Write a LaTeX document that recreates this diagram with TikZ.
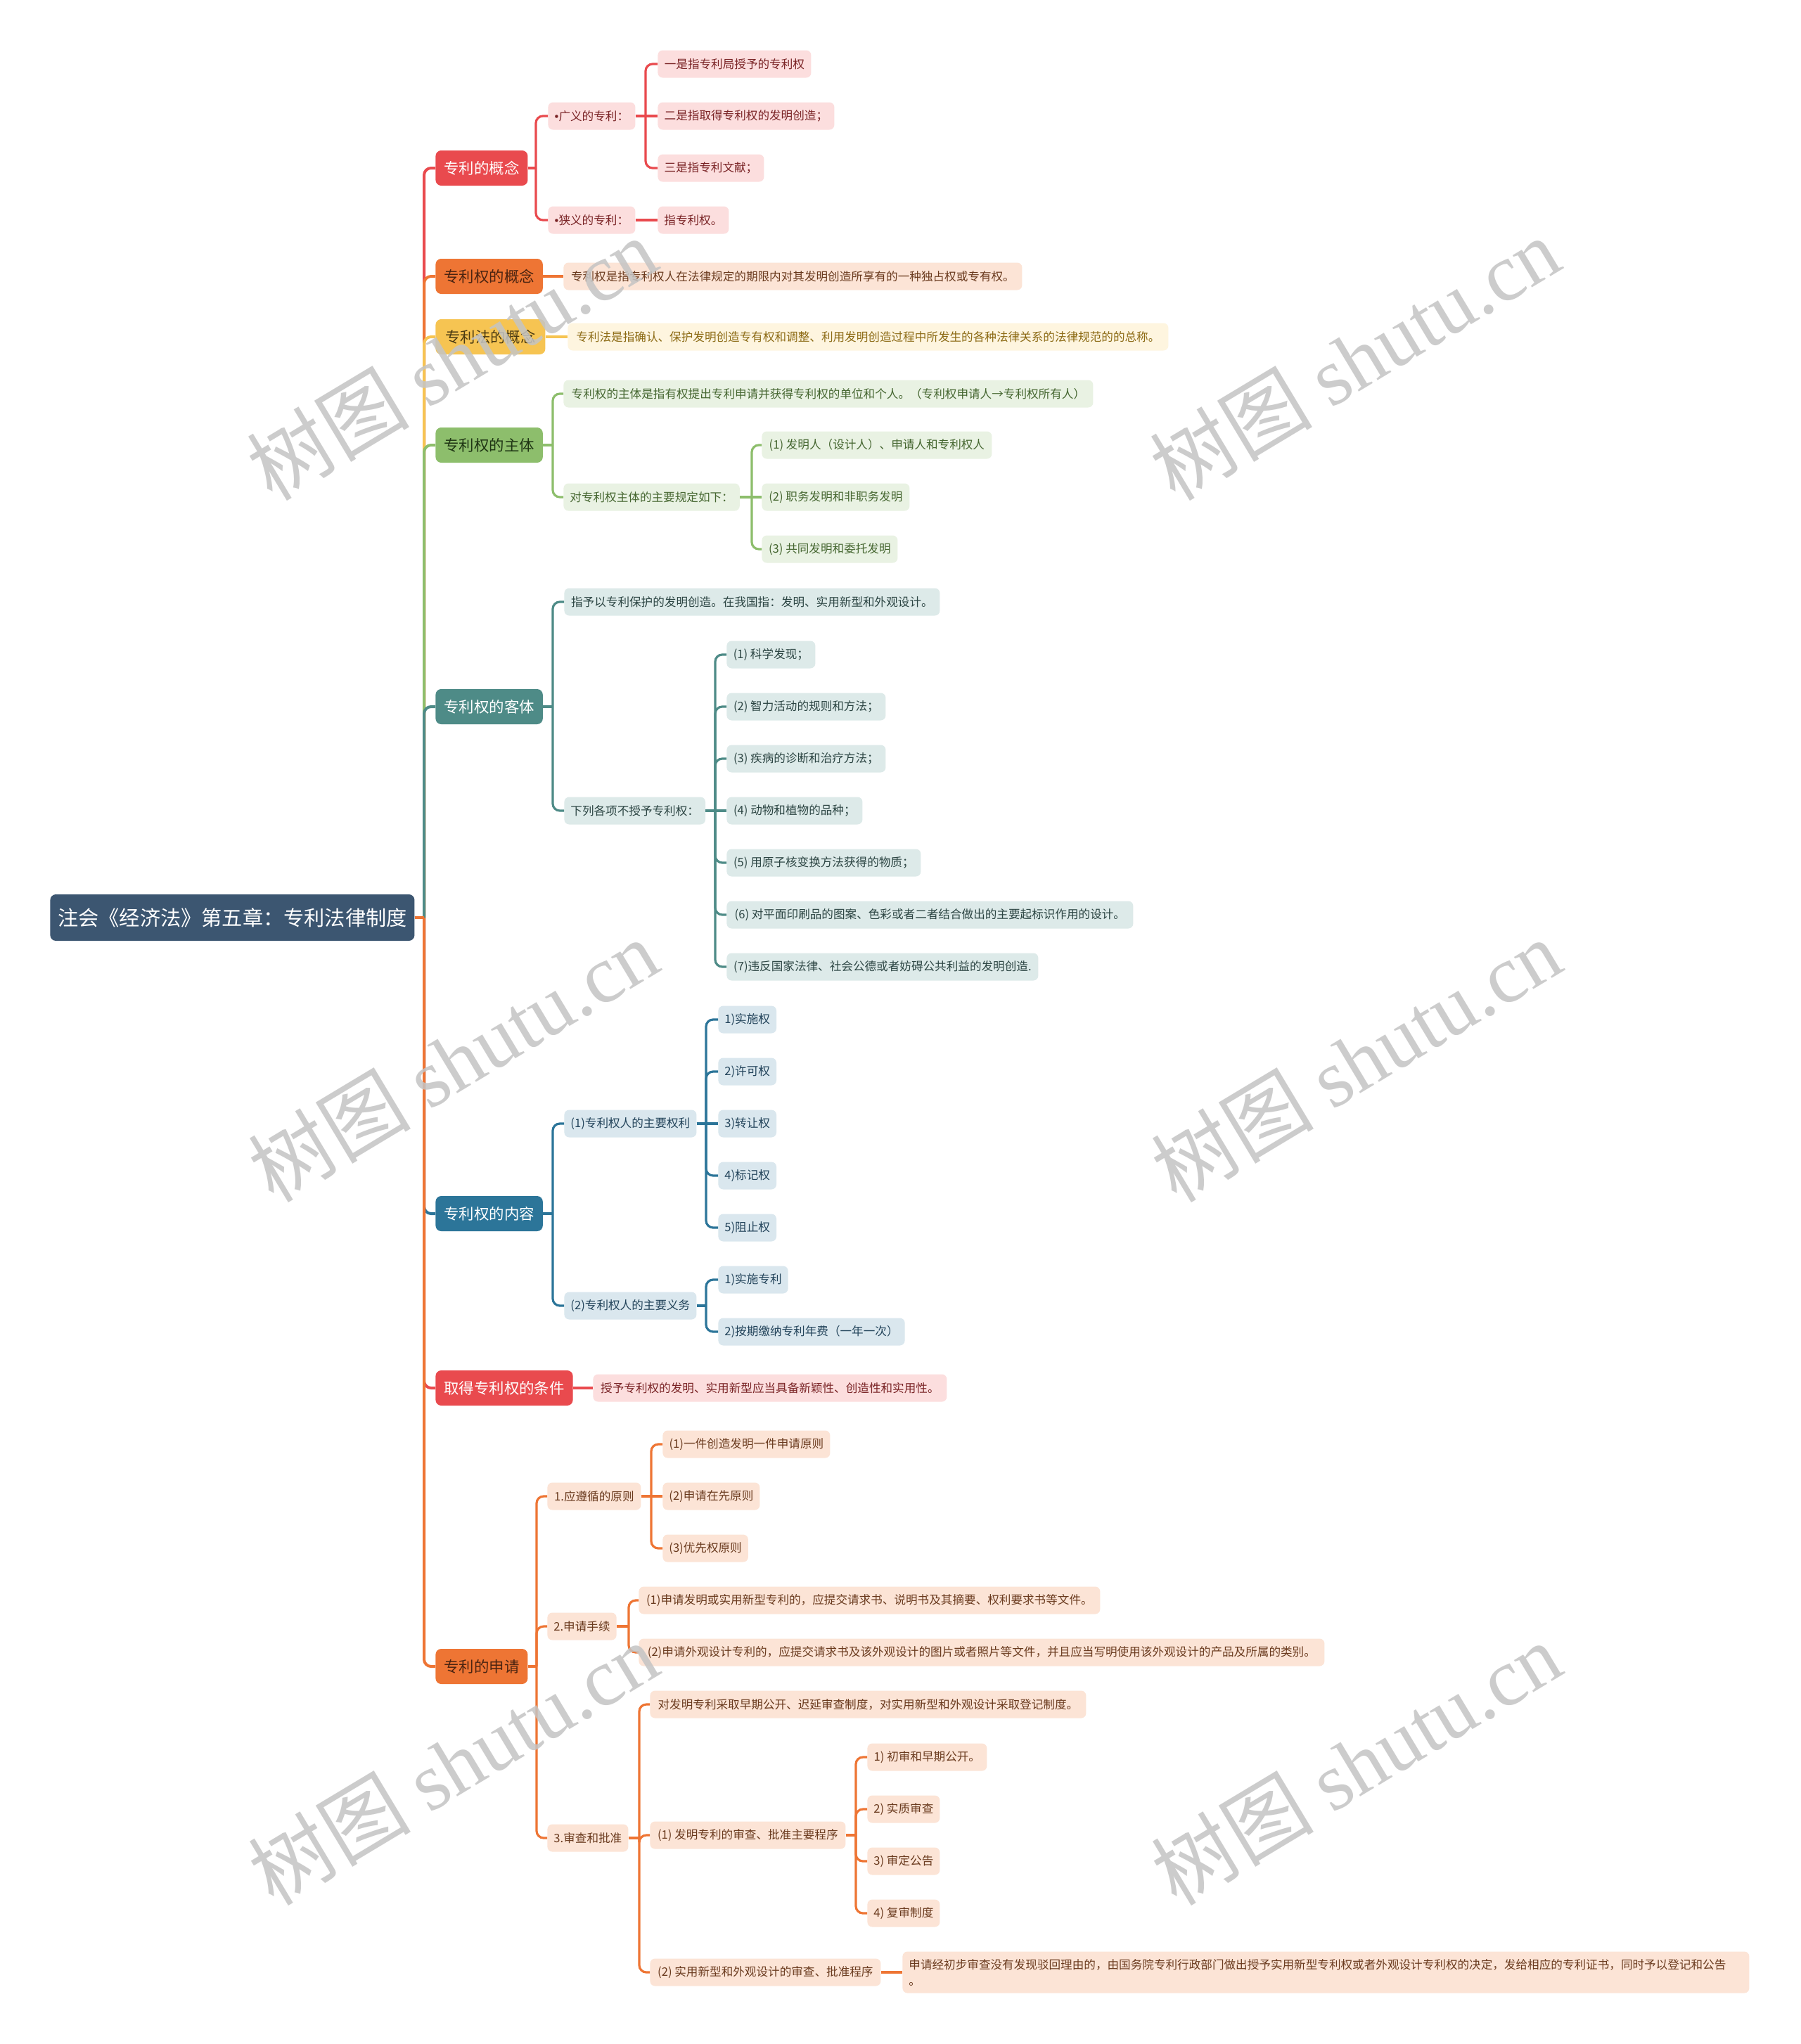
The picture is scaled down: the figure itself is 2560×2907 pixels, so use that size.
\documentclass[tikz,border=0pt]{standalone}
\usepackage{fontspec}
\setmainfont{Noto Sans CJK SC}
\newfontfamily\wmserif{Liberation Serif}
\newfontfamily\latinf{Liberation Sans}
\usetikzlibrary{calc}

\definecolor{rootc}{HTML}{3C5671}
\definecolor{redc}{HTML}{E94A4E}
\definecolor{redl}{HTML}{FCDEDE}
\definecolor{redt}{HTML}{7A2426}
\definecolor{orac}{HTML}{EE7534}
\definecolor{oral}{HTML}{FCE4D6}
\definecolor{orat}{HTML}{6A3A1E}
\definecolor{oradk}{HTML}{4B2411}
\definecolor{yelc}{HTML}{F6C452}
\definecolor{yell}{HTML}{FEF5DF}
\definecolor{yelt}{HTML}{8C6A14}
\definecolor{yeldk}{HTML}{4A3A12}
\definecolor{grnc}{HTML}{8DBE6C}
\definecolor{grnl}{HTML}{E9F2E3}
\definecolor{grnt}{HTML}{456630}
\definecolor{grndk}{HTML}{1F3514}
\definecolor{tealc}{HTML}{4E8B87}
\definecolor{teall}{HTML}{DDEAE9}
\definecolor{tealt}{HTML}{2C4543}
\definecolor{bluc}{HTML}{2C7599}
\definecolor{blul}{HTML}{DAE7EE}
\definecolor{blut}{HTML}{22435A}
\definecolor{wmc}{HTML}{C4C4C4}

\newcommand\mmnode[6]{\node[#5,minimum width=#4*0.5pt] (#1) at (#2,#3) {#6};}
\newcommand\mmlink[4]{%
  \coordinate (v#1) at (#3,0);
  \draw[#4] (#1.east) -- (#1.east -| v#1);
  \draw[#4,rounded corners=5pt] (#1.east -| v#1) |- (#2.west);}
\newcommand\mmstraight[3]{\draw[#3] (#1.east) -- (#2.west);}
\newcommand\bul{{\latinf •}}

\begin{document}
\begin{tikzpicture}[x=0.5pt,y=-0.5pt,
  rootbox/.style={fill=rootc,text=white,rounded corners=4pt,minimum height=33pt,inner xsep=5pt,inner ysep=0pt,font=\fontsize{14.6pt}{18pt}\selectfont,anchor=west},
  lone/.style={rounded corners=4pt,minimum height=25pt,inner xsep=6pt,inner ysep=0pt,font=\fontsize{10.7pt}{13pt}\selectfont,anchor=west},
  leaf/.style={rounded corners=3.5pt,minimum height=19.5pt,inner xsep=4.5pt,inner ysep=0pt,font=\fontsize{8.3pt}{10pt}\selectfont,anchor=west},
  rl/.style={leaf,fill=redl,text=redt},
  ol/.style={leaf,fill=oral,text=orat},
  yl/.style={leaf,fill=yell,text=yelt},
  gl/.style={leaf,fill=grnl,text=grnt},
  tl/.style={leaf,fill=teall,text=tealt},
  bl/.style={leaf,fill=blul,text=blut},
  trunk/.style={line width=2pt},
  twig/.style={line width=1.6pt},
  wm/.style={rotate=31,text=wmc,opacity=0.85,font=\fontsize{58pt}{58pt}\selectfont}
]
\fill[white] (0,0) rectangle (2560,2907);
\useasboundingbox (0,0) rectangle (2560,2907);

% root
\mmnode{root}{71}{1305}{518}{rootbox}{注会《经济法》第五章：专利法律制度}

% level 1
\mmnode{La}{619}{239}{130}{lone,fill=redc,text=white}{专利的概念}
\mmnode{Lb}{619}{393}{151}{lone,fill=orac,text=oradk}{专利权的概念}
\mmnode{Lc}{619}{479}{156}{lone,fill=yelc,text=yeldk}{专利法的概念}
\mmnode{Ld}{619}{633}{151}{lone,fill=grnc,text=grndk}{专利权的主体}
\mmnode{Le}{619}{1005}{151}{lone,fill=tealc,text=white}{专利权的客体}
\mmnode{Lf}{619}{1726}{151}{lone,fill=bluc,text=white}{专利权的内容}
\mmnode{Lg}{619}{1974}{194}{lone,fill=redc,text=white}{取得专利权的条件}
\mmnode{Lh}{619}{2370}{130}{lone,fill=orac,text=oradk}{专利的申请}

% 专利的概念
\mmnode{a1}{779}{165}{124}{rl}{\bul 广义的专利：}
\mmnode{a2}{779}{313}{124}{rl}{\bul 狭义的专利：}
\mmnode{a11}{935}{91}{218}{rl}{一是指专利局授予的专利权}
\mmnode{a12}{935}{165}{251}{rl}{二是指取得专利权的发明创造；}
\mmnode{a13}{935}{239}{151}{rl}{三是指专利文献；}
\mmnode{a21}{935}{313}{100}{rl}{指专利权。}

% 专利权的概念 / 专利法的概念
\mmnode{b1}{801}{393}{652}{ol}{专利权是指专利权人在法律规定的期限内对其发明创造所享有的一种独占权或专有权。}
\mmnode{c1}{807}{479}{854}{yl}{专利法是指确认、保护发明创造专有权和调整、利用发明创造过程中所发生的各种法律关系的法律规范的的总称。}

% 专利权的主体
\mmnode{d1}{801}{560}{753}{gl}{专利权的主体是指有权提出专利申请并获得专利权的单位和个人。（专利权申请人→专利权所有人）}
\mmnode{d2}{801}{707}{250}{gl}{对专利权主体的主要规定如下：}
\mmnode{d21}{1083}{633}{327}{gl}{(1) 发明人（设计人）、申请人和专利权人}
\mmnode{d22}{1083}{707}{210}{gl}{(2) 职务发明和非职务发明}
\mmnode{d23}{1083}{781}{193}{gl}{(3) 共同发明和委托发明}

% 专利权的客体
\mmnode{e1}{802}{856}{534}{tl}{指予以专利保护的发明创造。在我国指：发明、实用新型和外观设计。}
\mmnode{e2}{802}{1153}{200}{tl}{下列各项不授予专利权：}
\mmnode{e21}{1033}{931}{126}{tl}{(1) 科学发现；}
\mmnode{e22}{1033}{1005}{226}{tl}{(2) 智力活动的规则和方法；}
\mmnode{e23}{1033}{1079}{226}{tl}{(3) 疾病的诊断和治疗方法；}
\mmnode{e24}{1033}{1153}{193}{tl}{(4) 动物和植物的品种；}
\mmnode{e25}{1033}{1227}{276}{tl}{(5) 用原子核变换方法获得的物质；}
\mmnode{e26}{1033}{1301}{578}{tl}{(6) 对平面印刷品的图案、色彩或者二者结合做出的主要起标识作用的设计。}
\mmnode{e27}{1033}{1375}{443}{tl}{(7)违反国家法律、社会公德或者妨碍公共利益的发明创造.}

% 专利权的内容
\mmnode{f1}{802}{1598}{188}{bl}{(1)专利权人的主要权利}
\mmnode{f11}{1021}{1450}{82}{bl}{1)实施权}
\mmnode{f12}{1021}{1524}{82}{bl}{2)许可权}
\mmnode{f13}{1021}{1598}{82}{bl}{3)转让权}
\mmnode{f14}{1021}{1672}{82}{bl}{4)标记权}
\mmnode{f15}{1021}{1746}{82}{bl}{5)阻止权}
\mmnode{f2}{802}{1857}{188}{bl}{(2)专利权人的主要义务}
\mmnode{f21}{1021}{1820}{98}{bl}{1)实施专利}
\mmnode{f22}{1021}{1894}{265}{bl}{2)按期缴纳专利年费（一年一次）}

% 取得专利权的条件
\mmnode{g1}{843}{1974}{503}{rl}{授予专利权的发明、实用新型应当具备新颖性、创造性和实用性。}

% 专利的申请
\mmnode{h1}{778}{2128}{133}{ol}{1.应遵循的原则}
\mmnode{h11}{942}{2054}{238}{ol}{(1)一件创造发明一件申请原则}
\mmnode{h12}{942}{2128}{137}{ol}{(2)申请在先原则}
\mmnode{h13}{942}{2202}{121}{ol}{(3)优先权原则}
\mmnode{h2}{778}{2313}{98}{ol}{2.申请手续}
\mmnode{h21}{908}{2276}{656}{ol}{(1)申请发明或实用新型专利的，应提交请求书、说明书及其摘要、权利要求书等文件。}
\mmnode{h22}{908}{2350}{975}{ol}{(2)申请外观设计专利的，应提交请求书及该外观设计的图片或者照片等文件，并且应当写明使用该外观设计的产品及所属的类别。}
\mmnode{h3}{778}{2614}{115}{ol}{3.审查和批准}
\mmnode{h31}{924}{2424}{620}{ol}{对发明专利采取早期公开、迟延审查制度，对实用新型和外观设计采取登记制度。}
\mmnode{h32}{924}{2610}{278}{ol}{(1) 发明专利的审查、批准主要程序}
\mmnode{h321}{1233}{2499}{170}{ol}{1) 初审和早期公开。}
\mmnode{h322}{1233}{2573}{103}{ol}{2) 实质审查}
\mmnode{h323}{1233}{2647}{103}{ol}{3) 审定公告}
\mmnode{h324}{1233}{2721}{103}{ol}{4) 复审制度}
\mmnode{h33}{924}{2805}{328}{ol}{(2) 实用新型和外观设计的审查、批准程序}
\node[ol,minimum height=29.5pt,text width=593pt,align=left,font=\fontsize{8.3pt}{11.5pt}\selectfont] (h331) at (1283,2805) {申请经初步审查没有发现驳回理由的，由国务院专利行政部门做出授予实用新型专利权或者外观设计专利权的决定，发给相应的专利证书，同时予以登记和公告\\。};

% root connectors (order gives trunk colours)
\mmlink{root}{La}{603}{trunk,redc}
\mmlink{root}{Lb}{603}{trunk,orac}
\mmlink{root}{Lc}{603}{trunk,yelc}
\mmlink{root}{Ld}{603}{trunk,grnc}
\mmlink{root}{Le}{603}{trunk,tealc}
\mmlink{root}{Lf}{603}{trunk,bluc}
\mmlink{root}{Lg}{603}{trunk,redc}
\mmlink{root}{Lh}{603}{trunk,orac}

% 专利的概念
\mmlink{La}{a1}{762}{twig,redc}
\mmlink{La}{a2}{762}{twig,redc}
\mmlink{a1}{a11}{918}{twig,redc}
\mmstraight{a1}{a12}{twig,redc}
\mmlink{a1}{a13}{918}{twig,redc}
\mmstraight{a2}{a21}{twig,redc}

\mmstraight{Lb}{b1}{twig,orac}
\mmstraight{Lc}{c1}{twig,yelc}

% 主体
\mmlink{Ld}{d1}{786}{twig,grnc}
\mmlink{Ld}{d2}{786}{twig,grnc}
\mmlink{d2}{d21}{1069}{twig,grnc}
\mmstraight{d2}{d22}{twig,grnc}
\mmlink{d2}{d23}{1069}{twig,grnc}

% 客体
\mmlink{Le}{e1}{786}{twig,tealc}
\mmlink{Le}{e2}{786}{twig,tealc}
\mmlink{e2}{e21}{1017}{twig,tealc}
\mmlink{e2}{e22}{1017}{twig,tealc}
\mmlink{e2}{e23}{1017}{twig,tealc}
\mmstraight{e2}{e24}{twig,tealc}
\mmlink{e2}{e25}{1017}{twig,tealc}
\mmlink{e2}{e26}{1017}{twig,tealc}
\mmlink{e2}{e27}{1017}{twig,tealc}

% 内容
\mmlink{Lf}{f1}{786}{twig,bluc}
\mmlink{Lf}{f2}{786}{twig,bluc}
\mmlink{f1}{f11}{1004}{twig,bluc}
\mmlink{f1}{f12}{1004}{twig,bluc}
\mmstraight{f1}{f13}{twig,bluc}
\mmlink{f1}{f14}{1004}{twig,bluc}
\mmlink{f1}{f15}{1004}{twig,bluc}
\mmlink{f2}{f21}{1004}{twig,bluc}
\mmlink{f2}{f22}{1004}{twig,bluc}

% 条件
\mmstraight{Lg}{g1}{twig,redc}

% 申请
\mmlink{Lh}{h1}{763}{twig,orac}
\mmlink{Lh}{h2}{763}{twig,orac}
\mmlink{Lh}{h3}{763}{twig,orac}
\mmlink{h1}{h11}{926}{twig,orac}
\mmstraight{h1}{h12}{twig,orac}
\mmlink{h1}{h13}{926}{twig,orac}
\mmlink{h2}{h21}{894}{twig,orac}
\mmlink{h2}{h22}{894}{twig,orac}
\mmlink{h3}{h31}{909}{twig,orac}
\mmlink{h3}{h32}{909}{twig,orac}
\mmlink{h3}{h33}{909}{twig,orac}
\mmlink{h32}{h321}{1217}{twig,orac}
\mmlink{h32}{h322}{1217}{twig,orac}
\mmlink{h32}{h323}{1217}{twig,orac}
\mmlink{h32}{h324}{1217}{twig,orac}
\mmstraight{h33}{h331}{twig,orac}

% watermarks
\node[wm] (wm1) at (642,510) {树图 {\wmserif shutu.cn}};
\node[wm] (wm2) at (1926,510) {树图 {\wmserif shutu.cn}};
\node[wm] (wm3) at (644,1508) {树图 {\wmserif shutu.cn}};
\node[wm] (wm4) at (1928,1508) {树图 {\wmserif shutu.cn}};
\node[wm] (wm5) at (644,2508) {树图 {\wmserif shutu.cn}};
\node[wm] (wm6) at (1928,2508) {树图 {\wmserif shutu.cn}};
\end{tikzpicture}
\end{document}
